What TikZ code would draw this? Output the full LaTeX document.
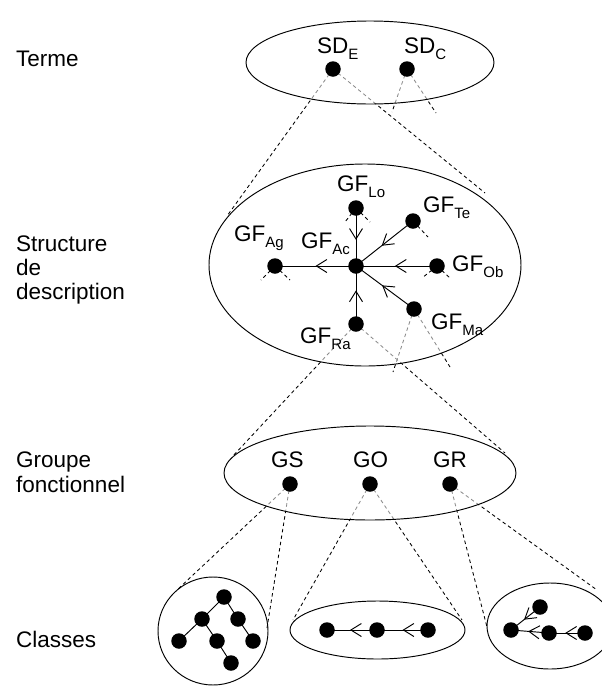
\documentclass[tikz,border=0pt]{standalone}
\usepackage{fontspec}
\setmainfont{Liberation Sans}
\usetikzlibrary{arrows.meta,decorations.markings}
\pgfdeclarelayer{bg}
\pgfsetlayers{bg,main}
\newcommand\sbs[1]{\raisebox{-6pt}{\fontsize{15}{15}\selectfont #1}}
\begin{document}
\begin{tikzpicture}[x=1pt,y=-1pt,
  dot/.style={circle,fill=black,inner sep=0pt,minimum size=15.5pt},
  lab/.style={anchor=base west,inner sep=0pt,font=\fontsize{22.5}{24}\selectfont},
  rim/.style={line width=0.95pt},
  link/.style={line width=0.95pt},
  dsh/.style={dash pattern=on 3.5pt off 3pt,line width=0.85pt},
  ingray/.style={dsh,draw=black!45},
  midarrow/.style={postaction={decorate},decoration={markings,mark=at position #1 with {\arrow{Straight Barb[length=10.5pt,width=13pt,line width=0.95pt]}}}},
  Eone/.style={insert path={(370,62.5) ellipse [x radius=124,y radius=41.5]}},
  Etwo/.style={insert path={(365,265) ellipse [x radius=156,y radius=101]}},
  Ethree/.style={insert path={(370,473) ellipse [x radius=146,y radius=47]}},
  Efour/.style={insert path={(213,631) ellipse [x radius=55,y radius=54]}},
  Efive/.style={insert path={(377.5,630) ellipse [x radius=87.5,y radius=29]}},
  Esix/.style={insert path={(550,626) ellipse [x radius=63,y radius=43]}},
  ]
\useasboundingbox (0,0) rectangle (602,686);

% side labels
\node[lab] (terme) at (16,66) {Terme};
\node[lab] (struct1) at (16,251) {Structure};
\node[lab] (struct2) at (16,275) {de};
\node[lab] (struct3) at (16,299) {description};
\node[lab] (grp1) at (16,467) {Groupe};
\node[lab] (grp2) at (16,492) {fonctionnel};
\node[lab] (classes) at (16,647) {Classes};

% ellipses
\draw[rim,Eone];
\draw[rim,Etwo];
\draw[rim,Ethree];
\draw[rim,Efour];
\draw[rim,Efive];
\draw[rim,Esix];

% dots
\node[dot] (sde) at (333,69) {};
\node[dot] (sdc) at (407,69) {};
\node[dot] (lo) at (356,208) {};
\node[dot] (te) at (413,221) {};
\node[dot] (ag) at (275,266) {};
\node[dot] (ac) at (356,266) {};
\node[dot] (ob) at (437,266) {};
\node[dot] (ma) at (414,309) {};
\node[dot] (ra) at (356,324) {};
\node[dot] (gs) at (290,484) {};
\node[dot] (go) at (370,484) {};
\node[dot] (gr) at (450,484) {};
\node[dot] (t1) at (224,597) {};
\node[dot] (t2) at (202,619) {};
\node[dot] (t3) at (238,619) {};
\node[dot] (t4) at (179,641) {};
\node[dot] (t5) at (217,641) {};
\node[dot] (t6) at (253,641) {};
\node[dot] (t7) at (231,663) {};
\node[dot] (m1) at (327,630) {};
\node[dot] (m2) at (377,630) {};
\node[dot] (m3) at (428,630) {};
\node[dot] (r1) at (511,630) {};
\node[dot] (r2) at (540,607) {};
\node[dot] (r3) at (549,633) {};
\node[dot] (r4) at (585,633) {};

% labels
\node[lab] (lsde) at (317,53) {SD\sbs{E}};
\node[lab] (lsdc) at (404,53) {SD\sbs{C}};
\node[lab] (llo) at (337,191) {GF\sbs{Lo}};
\node[lab] (lte) at (423,212) {GF\sbs{Te}};
\node[lab] (lag) at (234,241) {GF\sbs{Ag}};
\node[lab] (lac) at (301,248) {GF\sbs{Ac}};
\node[lab] (lob) at (452,271) {GF\sbs{Ob}};
\node[lab] (lma) at (431,329) {GF\sbs{Ma}};
\node[lab] (lra) at (300,343) {GF\sbs{Ra}};
\node[lab] (lgs) at (271,467) {GS};
\node[lab] (lgo) at (353,467) {GO};
\node[lab] (lgr) at (433,467) {GR};

% free ends
\coordinate (e1a) at (227,216);
\coordinate (e1b) at (485,193);
\coordinate (e1c) at (392,112);
\coordinate (e1d) at (436,113);
\coordinate (e2a) at (232,457);
\coordinate (e2b) at (505,453);
\coordinate (e2c) at (393,372);
\coordinate (e2d) at (450,367);
\coordinate (e3a) at (177,590);
\coordinate (e3b) at (267,628);
\coordinate (e3c) at (293,620);
\coordinate (e3d) at (462,620);
\coordinate (e3e) at (487,627);
\coordinate (e3f) at (597,590);
\coordinate (slo1) at (345,222);
\coordinate (slo2) at (370,222);
\coordinate (sag1) at (261,280);
\coordinate (sag2) at (290,280);
\coordinate (sob1) at (422,278);
\coordinate (sob2) at (450,278);
\coordinate (ste) at (428,237);

\begin{pgfonlayer}{bg}
% projection lines: gray inside the source ellipse, black outside
\begin{scope}
  \clip[Eone];
  \draw[ingray] (sde.center) -- (e1a) (sde.center) -- (e1b)
                (sdc.center) -- (e1c) (sdc.center) -- (e1d);
\end{scope}
\begin{scope}[even odd rule]
  \clip[Eone] (-10,-10) rectangle (620,700);
  \draw[dsh] (sde.center) -- (e1a) (sde.center) -- (e1b)
             (sdc.center) -- (e1c) (sdc.center) -- (e1d);
\end{scope}
\begin{scope}
  \clip[Etwo];
  \draw[ingray] (ra.center) -- (e2a) (ra.center) -- (e2b)
                (ma.center) -- (e2c) (ma.center) -- (e2d);
\end{scope}
\begin{scope}[even odd rule]
  \clip[Etwo] (-10,-10) rectangle (620,700);
  \draw[dsh] (ra.center) -- (e2a) (ra.center) -- (e2b)
             (ma.center) -- (e2c) (ma.center) -- (e2d);
\end{scope}
\begin{scope}
  \clip[Ethree];
  \draw[ingray] (gs.center) -- (e3a) (gs.center) -- (e3b)
                (go.center) -- (e3c) (go.center) -- (e3d)
                (gr.center) -- (e3e) (gr.center) -- (e3f);
\end{scope}
\begin{scope}[even odd rule]
  \clip[Ethree] (-10,-10) rectangle (620,700);
  \draw[dsh] (gs.center) -- (e3a) (gs.center) -- (e3b)
             (go.center) -- (e3c) (go.center) -- (e3d)
             (gr.center) -- (e3e) (gr.center) -- (e3f);
\end{scope}
% stubs
\draw[dsh] (lo.center) -- (slo1) (lo.center) -- (slo2)
           (ag.center) -- (sag1) (ag.center) -- (sag2)
           (ob.center) -- (sob1) (ob.center) -- (sob2)
           (te.center) -- (ste);
% description structure
\draw[link,midarrow=0.55] (lo.center) -- (ac.center);
\draw[link,midarrow=0.55] (te.center) -- (ac.center);
\draw[link,midarrow=0.5] (ac.center) -- (ag.center);
\draw[link,midarrow=0.52] (ob.center) -- (ac.center);
\draw[link,midarrow=0.55] (ma.center) -- (ac.center);
\draw[link,midarrow=0.58] (ra.center) -- (ac.center);
% classes
\draw[link] (t1.center) -- (t2.center) (t1.center) -- (t3.center)
            (t2.center) -- (t4.center) (t2.center) -- (t5.center)
            (t3.center) -- (t6.center) (t5.center) -- (t7.center);
\draw[link,midarrow=0.5] (m3.center) -- (m2.center);
\draw[link,midarrow=0.54] (m2.center) -- (m1.center);
\draw[link,midarrow=0.55] (r2.center) -- (r1.center);
\draw[link,midarrow=0.55] (r3.center) -- (r1.center);
\draw[link,midarrow=0.55] (r4.center) -- (r3.center);
\end{pgfonlayer}
\end{tikzpicture}
\end{document}
